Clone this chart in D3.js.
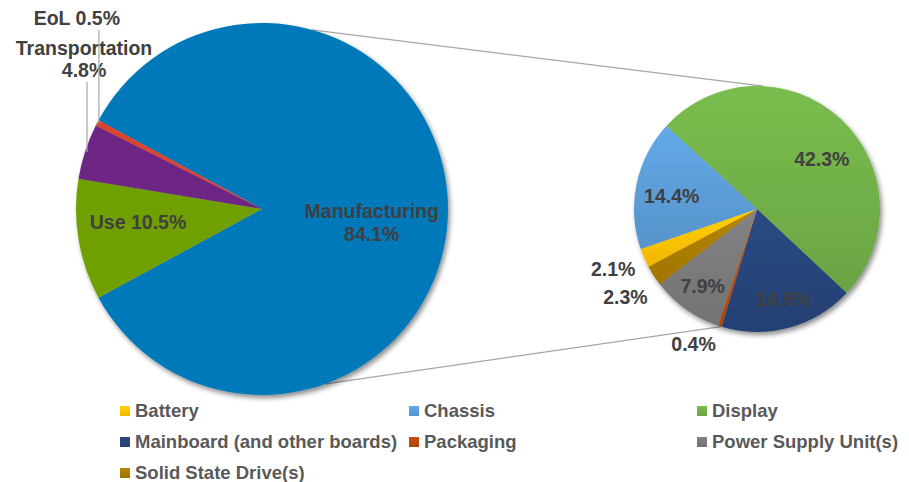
<!DOCTYPE html>
<html>
<head>
<meta charset="utf-8">
<script src="https://cdn.jsdelivr.net/npm/d3@7"></script>
<style>
  body { margin: 0; background: #fff; }
  text { font-family: "Liberation Sans", Arial, sans-serif; font-weight: bold; }
</style>
</head>
<body>
<div id="canvas"></div>
<script>
// life-cycle stages (first pie)
const stageNames = ["Manufacturing", "Use", "Transportation", "EoL"];
const stageValues = [84.1, 10.5, 4.8, 0.5];
const stageColors = ["#0079ba", "#6f9f00", "#6e2585", "#d9442b"];

// manufacturing split by part (second pie)
const partNames = ["Display", "Mainboard (and other boards)", "Packaging",
  "Power Supply Unit(s)", "Solid State Drive(s)", "Battery", "Chassis"];
const partValues = [42.3, 14.9, 0.4, 7.9, 2.3, 2.1, 14.4];
const partColors = ["#70ad47", "#264478", "#b8480e", "#787878", "#a87a00", "#ffc000", "#5b9bd5"];

const legendNames = partNames.slice().sort();

const width = 909;
const height = 482;
const deg = Math.PI / 180;

const svg = d3.select("#canvas").append("svg")
  .attr("width", width)
  .attr("height", height);

const defs = svg.append("defs");
defs.append("filter").attr("id", "shadow")
  .attr("x", "-10%").attr("y", "-10%").attr("width", "125%").attr("height", "125%")
  .append("feDropShadow")
  .attr("dx", 2).attr("dy", 3).attr("stdDeviation", 2.5)
  .attr("flood-color", "#000").attr("flood-opacity", 0.45);

// soft top-to-bottom shading like the office theme
function grad(id, c) {
  const g = defs.append("linearGradient").attr("id", id)
    .attr("x1", 0).attr("y1", 0).attr("x2", 0).attr("y2", 1);
  g.append("stop").attr("offset", "0%").attr("stop-color", d3.color(c).brighter(0.25));
  g.append("stop").attr("offset", "100%").attr("stop-color", d3.color(c).darker(0.15));
  return `url(#${id})`;
}

const pt = (cx, cy, a, r) => [cx + r * Math.sin(a), cy - r * Math.cos(a)];

// ---- first pie
const c1 = { x: 262, y: 209, r: 186 };
const start1 = Math.PI / 2 - Math.PI * stageValues[0] / d3.sum(stageValues);
const pie1 = d3.pie().sort(null).startAngle(start1).endAngle(start1 + 2 * Math.PI);
const arcs1 = pie1(stageValues);
const arc1 = d3.arc().innerRadius(0).outerRadius(c1.r);

// ---- second pie
const c2 = { x: 757, y: 209, r: 123 };
const start2 = 312.5 * deg;
const pie2 = d3.pie().sort(null).startAngle(start2).endAngle(start2 + 2 * Math.PI);
const arcs2 = pie2(partValues);
const arc2 = d3.arc().innerRadius(0).outerRadius(c2.r);

// connector lines
const conn = [[15.6, 3], [160, 197]];
conn.forEach(([a, b]) => {
  const p = pt(c1.x, c1.y, a * deg, c1.r);
  const q = pt(c2.x, c2.y, b * deg, c2.r);
  svg.append("line")
    .attr("x1", p[0]).attr("y1", p[1]).attr("x2", q[0]).attr("y2", q[1])
    .attr("stroke", "#a6a6a6").attr("stroke-width", 1.2);
});

const g1 = svg.append("g").attr("transform", `translate(${c1.x},${c1.y})`);
g1.append("g").attr("filter", "url(#shadow)")
  .selectAll("path").data(arcs1).enter().append("path")
  .attr("d", arc1)
  .attr("fill", (d, i) => stageColors[i]);

const g2 = svg.append("g").attr("transform", `translate(${c2.x},${c2.y})`);
g2.append("g").attr("filter", "url(#shadow)")
  .selectAll("path").data(arcs2).enter().append("path")
  .attr("d", arc2)
  .attr("fill", (d, i) => grad("pg" + i, partColors[i]));

const labelColor = "#404040";
const fs = 19.5;
const lh = 22.5;

function label(x, y, lines) {
  const t = svg.append("text")
    .attr("x", x).attr("y", y)
    .attr("text-anchor", "middle")
    .attr("fill", labelColor)
    .attr("font-size", fs);
  lines.forEach((s, i) => {
    t.append("tspan").attr("x", x).attr("dy", i === 0 ? 0 : lh).text(s);
  });
}

// inside labels of first pie: [index, angle shift (deg), radius factor, lines, dy]
const mid = (d) => (d.startAngle + d.endAngle) / 2;
[
  [0, 0, 0.59, [stageNames[0], stageValues[0] + "%"], 9],
  [1, 3.7, 0.67, [stageNames[1] + " " + stageValues[1] + "%"], 7]
].forEach(([i, sh, k, lines, dy]) => {
  const p = pt(c1.x, c1.y, mid(arcs1[i]) + sh * deg, k * c1.r);
  label(p[0], p[1] + dy, lines);
});

// outside labels with vertical leaders: [index, leader top, label dx, lines]
[
  [2, 82, -3, [stageNames[2], stageValues[2] + "%"]],
  [3, 30, -22, [stageNames[3] + " " + stageValues[3] + "%"]]
].forEach(([i, top, dx, lines]) => {
  const p = pt(c1.x, c1.y, mid(arcs1[i]), c1.r - 2);
  svg.append("line")
    .attr("x1", p[0]).attr("y1", p[1]).attr("x2", p[0]).attr("y2", top)
    .attr("stroke", "#a6a6a6").attr("stroke-width", 1.2);
  label(p[0] + dx, top - 5 - (lines.length - 1) * lh, lines);
});

// labels of second pie: [angle (deg), radius factor]
const partLabelPos = [[53, 0.66], [164, 0.77], [205, 1.22], [215, 0.77], [236, 1.29], [247, 1.27], [278, 0.7]];
arcs2.forEach((d, i) => {
  const [a, k] = partLabelPos[i];
  const p = pt(c2.x, c2.y, a * deg, k * c2.r);
  label(p[0], p[1] + 6, [partValues[i] + "%"]);
});

// legend
const legendCols = [120, 409, 697];
const legendRows = [417, 448, 479];
const lg = svg.append("g");
legendNames.forEach((n, j) => {
  const x = legendCols[j % 3];
  const y = legendRows[Math.floor(j / 3)];
  const i = partNames.indexOf(n);
  lg.append("rect")
    .attr("x", x).attr("y", y - 11).attr("width", 10).attr("height", 10)
    .attr("fill", grad("lg" + j, partColors[i]));
  lg.append("text")
    .attr("x", x + 15).attr("y", y)
    .attr("fill", "#595959")
    .attr("font-size", 18.5)
    .text(n);
});
</script>
</body>
</html>
